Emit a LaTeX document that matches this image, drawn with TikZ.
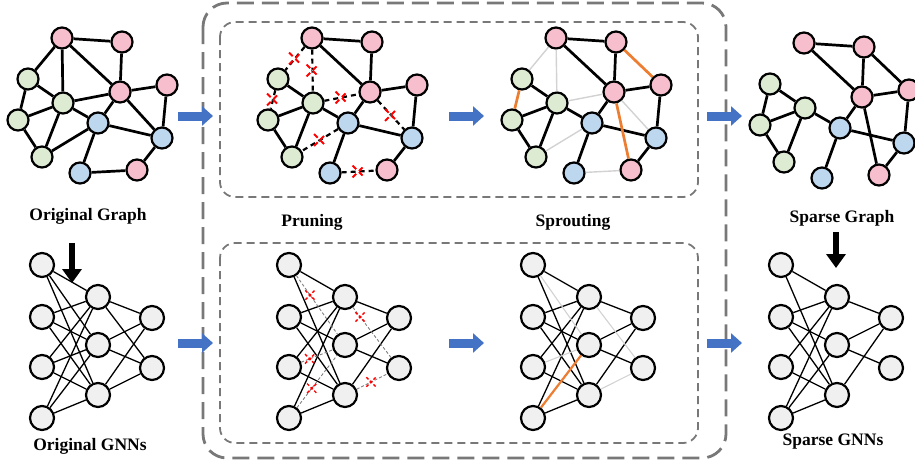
\documentclass[tikz,border=0pt]{standalone}
\usepackage{fontspec}
\setmainfont{Liberation Serif}
\usetikzlibrary{arrows.meta,shapes.misc}
\definecolor{pk}{RGB}{247,190,206}
\definecolor{gr}{RGB}{221,235,211}
\definecolor{bl}{RGB}{189,215,238}
\definecolor{nnfill}{RGB}{240,240,240}
\definecolor{orng}{RGB}{237,125,49}
\definecolor{lg}{RGB}{210,210,210}
\definecolor{boxg}{RGB}{120,120,120}
\definecolor{barrow}{RGB}{68,114,196}
\tikzset{
 gn/.style={circle,draw=black,line width=2.2pt,minimum size=21pt,inner sep=0pt},
 ge/.style={line width=2.7pt,black},
 gpr/.style={line width=2.2pt,black,dash pattern=on 5pt off 4pt},
 gsp/.style={line width=1.4pt,lg},
 gor/.style={line width=2.7pt,orng},
 nnn/.style={circle,draw=black,fill=nnfill,line width=2.2pt,minimum size=24pt,inner sep=0pt},
 ne/.style={line width=1.3pt,black},
 npr/.style={line width=0.9pt,gray,dash pattern=on 3pt off 2pt},
 nsp/.style={line width=1.1pt,lg},
 nor/.style={line width=2.2pt,orng},
 xm/.style={cross out,draw=red,fill=white,line width=1.8pt,minimum size=10pt,inner sep=0pt},
 xs/.style={cross out,draw=red,line width=1.4pt,minimum size=8pt,inner sep=0pt},
 lbl/.style={font=\fontsize{17.5}{20}\selectfont\bfseries},
 barr/.style={line width=9pt,barrow,-{Triangle[length=11pt,width=19pt]}},
 karr/.style={line width=6pt,black,-{Triangle[length=14pt,width=19pt]}},
 outbox/.style={draw=boxg,line width=2.8pt,dash pattern=on 17pt off 8pt,rounded corners=24pt},
 inbox/.style={draw=boxg,line width=1.8pt,dash pattern=on 8pt off 5pt,rounded corners=15pt},
}
\newcommand{\gnodes}[1]{%
 \foreach \n/\x/\y/\c in {P1/62/38/pk,P2/122/42/pk,G1/28/79/gr,P3/120/92/pk,P4/167/85/pk,G2/63/103/gr,G3/18/120/gr,B1/98/123/bl,B2/162/138/bl,G4/42/157/gr,B3/80/173/bl,P5/137/170/pk}
  \node[gn,fill=\c] (#1\n) at (\x,\y) {};}
\newcommand{\nnodes}[1]{%
 \foreach \n/\x/\y in {A1/42/265,A2/42/317,A3/42/367,A4/42/418,B1/98/297,B2/98/345,B3/98/395,C1/152/318,C2/152/368}
  \node[nnn] (#1\n) at (\x,\y) {};}
\begin{document}
\begin{tikzpicture}[x=1pt,y=-1pt]
\useasboundingbox (0,0) rectangle (915,463);
% boxes
\draw[outbox] (203,3) rectangle (726,458);
\draw[inbox] (220,22) rectangle (698,197);
\draw[inbox] (220,243) rectangle (698,443);
% ---------- graphs ----------
\gnodes{a}
\begin{scope}[shift={(250,0)}]\gnodes{b}\end{scope}
\begin{scope}[shift={(494,0)}]\gnodes{c}\end{scope}
\begin{scope}[shift={(742,5)}]\gnodes{d}\end{scope}
\foreach \u/\v in {P1/P2,P1/G1,P1/G2,P1/P3,P2/P3,G1/G2,G1/G3,G2/P3,G2/G3,G2/B1,G2/G4,G3/G4,P3/P4,P3/B1,P3/B2,P4/B2,B1/B2,B1/G4,B1/B3,B3/P5,P5/B2}
 \draw[ge] (a\u) -- (a\v);
\foreach \u/\v in {P1/P2,P1/P3,P2/P3,G1/G2,G2/G3,G2/B1,G2/G4,G3/G4,P3/P4,P3/B1,P4/B2,B1/B2,B1/B3,P5/B2}
 {\draw[ge] (b\u) -- (b\v); \draw[ge] (c\u) -- (c\v); \draw[ge] (d\u) -- (d\v);}
\foreach \u/\v in {P1/G1,P1/G2,G1/G3,G2/P3,P3/B2,B1/G4,B3/P5}
 \draw[gpr] (b\u) -- node[xm]{} (b\v);
\foreach \u/\v in {P1/G1,P1/G2,G2/P3,P3/B2,B1/G4,B3/P5}
 \draw[gsp] (c\u) -- (c\v);
\foreach \u/\v in {G1/G3,P2/P4,P3/P5}
 {\draw[gor] (c\u) -- (c\v); \draw[ge] (d\u) -- (d\v);}
% ---------- networks ----------
\nnodes{na}
\begin{scope}[shift={(247,0)}]\nnodes{nb}\end{scope}
\begin{scope}[shift={(491,0)}]\nnodes{nc}\end{scope}
\begin{scope}[shift={(739,0)}]\nnodes{nd}\end{scope}
\foreach \u in {A1,A2,A3,A4} \foreach \v in {B1,B2,B3} \draw[ne] (na\u) -- (na\v);
\foreach \u in {B1,B2,B3} \foreach \v in {C1,C2} \draw[ne] (na\u) -- (na\v);
\foreach \u/\v in {A1/B1,A1/B3,A2/B1,A2/B2,A2/B3,A3/B1,A3/B3,A4/B1,A4/B3,B1/C1,B2/C1,B2/C2,B3/C1}
 {\draw[ne] (nb\u) -- (nb\v); \draw[ne] (nc\u) -- (nc\v); \draw[ne] (nd\u) -- (nd\v);}
\draw[npr] (nbA1) -- node[xs,pos=0.33]{} (nbB2);
\draw[npr] (nbA3) -- node[xs,pos=0.27]{} (nbB2);
\draw[npr] (nbA4) -- node[xs,pos=0.37]{} (nbB2);
\draw[npr] (nbB1) -- node[xs,pos=0.19]{} (nbC2);
\draw[npr] (nbB3) -- node[xs,pos=0.47]{} (nbC2);
\foreach \u/\v in {A1/B2,A3/B2,B1/C2,B3/C2} \draw[nsp] (nc\u) -- (nc\v);
\draw[nor] (ncA4) -- (ncB2);
\draw[ne] (ndA4) -- (ndB2);
% ---------- arrows ----------
\foreach \i/\x/\y in {1/178/116,2/449/116,3/707/116,4/178/343,5/449/343,6/707/343}
 {\coordinate (bs\i) at (\x,\y); \coordinate (be\i) at (\x+35,\y); \draw[barr] (bs\i) -- (be\i);}
\coordinate (k1s) at (72,243); \coordinate (k1e) at (72,283);
\coordinate (k2s) at (836,232); \coordinate (k2e) at (836,268);
\draw[karr] (k1s) -- (k1e);
\draw[karr] (k2s) -- (k2e);
% ---------- labels ----------
\node[lbl] (t1) at (88,216) {Original Graph};
\node[lbl] (t2) at (312,222) {Pruning};
\node[lbl] (t3) at (573,222) {Sprouting};
\node[lbl] (t4) at (842,218) {Sparse Graph};
\node[lbl] (t5) at (90,446) {Original GNNs};
\node[lbl] (t6) at (833,442) {Sparse GNNs};
\end{tikzpicture}
\end{document}
